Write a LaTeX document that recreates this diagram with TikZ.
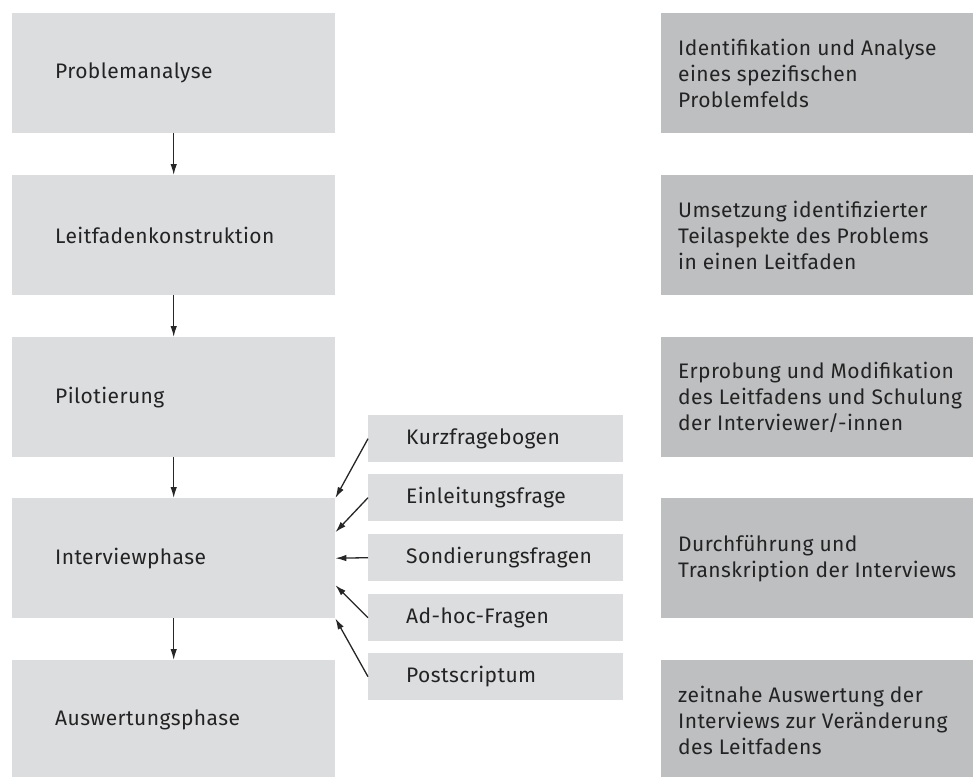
\documentclass[tikz,border=0pt]{standalone}
\usepackage{fontspec}
\setmainfont{Fira Sans}[LetterSpace=2]
\usetikzlibrary{arrows.meta}
\definecolor{lightbox}{RGB}{220,221,223}
\definecolor{darkbox}{RGB}{190,191,193}
\definecolor{ink}{RGB}{35,35,35}
\begin{document}
\begin{tikzpicture}[x=1pt,y=-1pt,
  font=\fontsize{21}{26}\selectfont,
  phase/.style={fill=lightbox, draw=none, minimum width=323pt, minimum height=120pt, inner sep=0pt, anchor=north west},
  desc/.style={fill=darkbox, draw=none, minimum width=312pt, minimum height=120pt, inner sep=0pt, anchor=north west},
  tool/.style={fill=lightbox, draw=none, minimum width=255pt, minimum height=47pt, inner sep=0pt, anchor=north west},
  txt/.style={anchor=west, align=left, inner sep=0pt, text=ink},
  arr/.style={draw=black!85, line width=1.3pt, -{Latex[length=11pt,width=6.5pt]}}
]
\useasboundingbox (0,0) rectangle (973,776);
% left phase boxes
\node[phase] (L1) at (12,13) {};
\node[phase] (L2) at (12,175) {};
\node[phase] (L3) at (12,337) {};
\node[phase] (L4) at (12,498) {};
\node[phase] (L5) at (12,660) {};
\node[txt] (L1t) at ([xshift=43pt]L1.west) {Problemanalyse};
\node[txt] (L2t) at ([xshift=43pt]L2.west) {Leitfadenkonstruktion};
\node[txt] (L3t) at ([xshift=43pt]L3.west) {Pilotierung};
\node[txt] (L4t) at ([xshift=43pt]L4.west) {Interviewphase};
\node[txt] (L5t) at ([xshift=43pt]L5.west) {Auswertungsphase};
% right description boxes
\node[desc] (R1) at (661,13) {};
\node[desc] (R2) at (661,175) {};
\node[desc] (R3) at (661,337) {};
\node[desc] (R4) at (661,498) {};
\node[desc] (R5) at (661,660) {};
\node[txt] (R1t) at ([xshift=17pt]R1.west) {Identifikation und Analyse\\eines spezifischen\\Problemfelds};
\node[txt] (R2t) at ([xshift=17pt]R2.west) {Umsetzung identifizierter\\Teilaspekte des Problems\\in einen Leitfaden};
\node[txt] (R3t) at ([xshift=17pt]R3.west) {Erprobung und Modifikation\\des Leitfadens und Schulung\\der Interviewer/-innen};
\node[txt] (R4t) at ([xshift=17pt]R4.west) {Durchführung und\\Transkription der Interviews};
\node[txt] (R5t) at ([xshift=17pt]R5.west) {zeitnahe Auswertung der\\Interviews zur Veränderung\\des Leitfadens};
% middle tool boxes
\node[tool] (M1) at (368,415) {};
\node[tool] (M2) at (368,474) {};
\node[tool] (M3) at (368,534) {};
\node[tool] (M4) at (368,594) {};
\node[tool] (M5) at (368,653) {};
\node[txt] (M1t) at ([xshift=38pt]M1.west) {Kurzfragebogen};
\node[txt] (M2t) at ([xshift=38pt]M2.west) {Einleitungsfrage};
\node[txt] (M3t) at ([xshift=38pt]M3.west) {Sondierungsfragen};
\node[txt] (M4t) at ([xshift=38pt]M4.west) {Ad-hoc-Fragen};
\node[txt] (M5t) at ([xshift=38pt]M5.west) {Postscriptum};
% flow arrows
\draw[arr] (L1.south) -- (L2.north);
\draw[arr] (L2.south) -- (L3.north);
\draw[arr] (L3.south) -- (L4.north);
\draw[arr] (L4.south) -- (L5.north);
% tool arrows
\draw[arr] (M1.west) -- (L4.north east);
\draw[arr] (M2.west) -- ([yshift=26pt]L4.east);
\draw[arr] (M3.west) -- (L4.east);
\draw[arr] (M4.west) -- ([yshift=-27pt]L4.east);
\draw[arr] (M5.west) -- (L4.south east);
\end{tikzpicture}
\end{document}
